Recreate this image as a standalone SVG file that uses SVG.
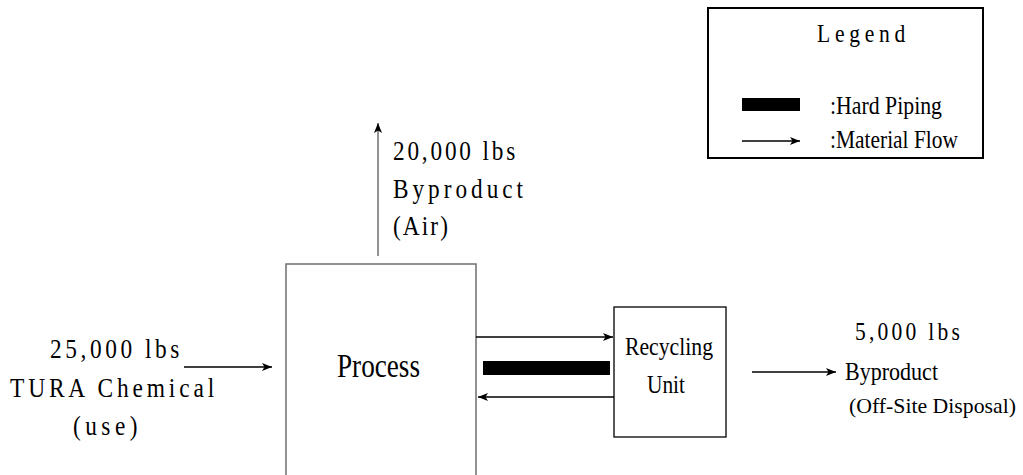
<svg xmlns="http://www.w3.org/2000/svg" width="1023" height="475" viewBox="0 0 1023 475">
<style>
text{font-family:"Liberation Serif","Times New Roman",serif;fill:#000}
.t26{font-size:26px}
.t28{font-size:28px}
.box{fill:#fff;stroke:#000;stroke-width:1.3}
.gbox{fill:#fff;stroke:#6e6e6e;stroke-width:1.5}
.flow{stroke:#000;stroke-width:1.3;fill:none;marker-end:url(#ah)}
.gflow{stroke:#6e6e6e;stroke-width:1.5;fill:none;marker-end:url(#ah)}
.pipe{fill:#000}
</style>
<defs>
<marker id="ah" viewBox="0 0 10 8" refX="10" refY="4" markerWidth="10" markerHeight="8" markerUnits="userSpaceOnUse" orient="auto">
<path d="M0,0 L10,4 L0,8 L2.5,4 z" fill="#000"/>
</marker>
</defs>
<rect width="1023" height="475" fill="#fff"/>

<g id="legend">
<rect x="708" y="8" width="275" height="150" fill="#fff" stroke="#000" stroke-width="2"/>
<text class="t26" x="817" y="42" style="letter-spacing:5.7px" textLength="93" lengthAdjust="spacingAndGlyphs">Legend</text>
<rect class="pipe" x="742" y="98" width="58" height="13"/>
<line class="flow" x1="742" y1="141" x2="800" y2="141"/>
<text class="t26" x="830" y="114" textLength="112" lengthAdjust="spacingAndGlyphs">:Hard Piping</text>
<text class="t26" x="830" y="148" textLength="128" lengthAdjust="spacingAndGlyphs">:Material Flow</text>
</g>

<g id="process">
<rect class="gbox" x="286" y="264" width="190" height="220"/>
<text x="337" y="377" font-size="33" textLength="83" lengthAdjust="spacingAndGlyphs">Process</text>
</g>

<g id="recycling-unit">
<rect class="box" x="614" y="307" width="112" height="130"/>
<text class="t26" x="625" y="355" textLength="88" lengthAdjust="spacingAndGlyphs">Recycling</text>
<text class="t26" x="647" y="393" textLength="38" lengthAdjust="spacingAndGlyphs">Unit</text>
</g>

<g id="input-label">
<text class="t28" x="50" y="358" style="letter-spacing:4.3px" textLength="133" lengthAdjust="spacingAndGlyphs">25,000 lbs</text>
<text class="t28" x="10" y="397" style="letter-spacing:4.6px" textLength="208" lengthAdjust="spacingAndGlyphs">TURA Chemical</text>
<text class="t28" x="73" y="435" style="letter-spacing:5.4px" textLength="69" lengthAdjust="spacingAndGlyphs">(use)</text>
</g>

<g id="air-label">
<text class="t28" x="393" y="160" style="letter-spacing:3.4px" textLength="125" lengthAdjust="spacingAndGlyphs">20,000 lbs</text>
<text class="t28" x="393" y="198" style="letter-spacing:4.8px" textLength="134" lengthAdjust="spacingAndGlyphs">Byproduct</text>
<text class="t28" x="393" y="235" style="letter-spacing:2.5px" textLength="57" lengthAdjust="spacingAndGlyphs">(Air)</text>
</g>

<g id="disposal-label">
<text class="t26" x="855" y="340" style="letter-spacing:3.9px" textLength="108" lengthAdjust="spacingAndGlyphs">5,000 lbs</text>
<text class="t26" x="845" y="380" textLength="93" lengthAdjust="spacingAndGlyphs">Byproduct</text>
<text x="849" y="413" font-size="22" textLength="167" lengthAdjust="spacingAndGlyphs">(Off-Site Disposal)</text>
</g>

<g id="connectors">
<line class="flow" x1="184" y1="367" x2="272" y2="367"/>
<line class="gflow" x1="378" y1="256" x2="378" y2="123"/>
<line class="flow" x1="476" y1="337" x2="613" y2="337"/>
<rect class="pipe" x="483" y="361" width="127" height="14"/>
<line class="flow" x1="614" y1="397" x2="478" y2="397"/>
<line class="flow" x1="752" y1="372" x2="836" y2="372"/>
</g>
</svg>
